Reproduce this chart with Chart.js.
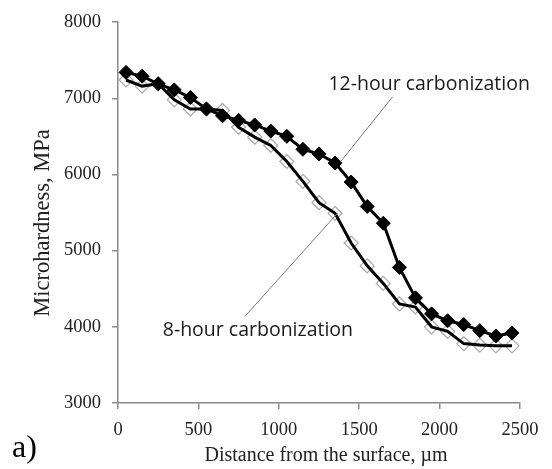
<!DOCTYPE html>
<html>
<head>
<meta charset="utf-8">
<script src="https://cdn.jsdelivr.net/npm/chart.js@4.4.0/dist/chart.umd.min.js"></script>
<style>
  html, body { margin:0; padding:0; background:#fff; }
  #wrap { width:552px; height:469px; position:relative; }
</style>
</head>
<body>
<div id="wrap"><canvas id="c" width="552" height="469"></canvas></div>
<script>
// distance from the surface, µm
const distance = [50,150,250,350,450,550,650,750,850,950,1050,1150,1250,1350,1450,1550,1650,1750,1850,1950,2050,2150,2250,2350,2450];
// microhardness, MPa
const hard12 = [7340,7290,7190,7110,7010,6860,6770,6710,6650,6570,6500,6330,6270,6150,5900,5580,5360,4780,4380,4170,4080,4030,3950,3880,3920];
const hard8  = [7240,7160,7190,6980,6860,6860,6840,6620,6490,6380,6170,5910,5630,5490,5100,4800,4570,4300,4260,4000,3940,3780,3760,3750,3750];
const xTicks = [0,500,1000,1500,2000,2500];
const yTicks = [3000,4000,5000,6000,7000,8000];

const pts = arr => arr.map((v,i)=>({ x: distance[i], y: v }));
const serif = "'Liberation Serif', 'Times New Roman', serif";

// callout labels with leader lines (in data coords)
const callouts = [
  { text:'12-hour carbonization', tx:1935, ty:7180, from:[1708,7020], to:[1385,6170] },
  { text:'8-hour carbonization',  tx:870,  ty:3955, from:[789,4136],  to:[1366,5493] },
];

const calloutPlugin = {
  id:'callouts',
  afterDraw(chart) {
    const {ctx, scales:{x, y}} = chart;
    ctx.save();
    ctx.strokeStyle = '#7a7a7a';
    ctx.lineWidth = 1;
    callouts.forEach(c => {
      ctx.beginPath();
      ctx.moveTo(x.getPixelForValue(c.from[0]), y.getPixelForValue(c.from[1]));
      ctx.lineTo(x.getPixelForValue(c.to[0]), y.getPixelForValue(c.to[1]));
      ctx.stroke();
    });
    ctx.fillStyle = '#1a1a1a';
    ctx.font = "19.5px 'Open Sans', Lato, sans-serif";
    ctx.textAlign = 'center';
    ctx.textBaseline = 'middle';
    callouts.forEach(c => ctx.fillText(c.text, x.getPixelForValue(c.tx), y.getPixelForValue(c.ty)));

    // axis titles drawn by hand, they sit a bit off-centre in the original
    ctx.fillStyle = '#222';
    ctx.font = '20px ' + serif;
    ctx.fillText('Distance from the surface, µm', 326, 456);
    ctx.save();
    ctx.translate(43, 223);
    ctx.rotate(-Math.PI/2);
    ctx.font = '22.5px ' + serif;
    ctx.fillText('Microhardness, MPa', 0, 0);
    ctx.restore();

    ctx.font = '32px ' + serif;
    ctx.textAlign = 'left';
    ctx.textBaseline = 'alphabetic';
    ctx.fillStyle = '#000';
    ctx.fillText('a)', 12, 457);
    ctx.restore();
  }
};

new Chart(document.getElementById('c'), {
  type:'line',
  data:{
    datasets:[
      { label:'12-hour carbonization', data:pts(hard12), order:0,
        borderColor:'#000', borderWidth:3, tension:0,
        pointStyle:'rectRot', pointRadius:7, pointBackgroundColor:'#000', pointBorderColor:'#000', pointBorderWidth:1 },
      { label:'8-hour line', data:pts(hard8), order:1,
        borderColor:'#000', borderWidth:3, tension:0, pointRadius:0 },
      { label:'8-hour carbonization', data:pts(hard8), order:2, showLine:false,
        pointStyle:'rectRot', pointRadius:7, pointBackgroundColor:'#fff', pointBorderColor:'#a8a8a8', pointBorderWidth:1.2 },
    ]
  },
  options:{
    responsive:false, animation:false,
    layout:{ padding:{ top:20, right:32, bottom:0, left:0 } },
    plugins:{ legend:{display:false}, tooltip:{enabled:false} },
    scales:{
      x:{ type:'linear', min:0, max:2500,
        afterBuildTicks: s => { s.ticks = xTicks.map(v=>({value:v})); },
        afterFit: s => { s.height = 66; },
        grid:{ drawOnChartArea:false, drawTicks:true, tickLength:6, color:'#8a8a8a', lineWidth:1.5 },
        border:{ color:'#8a8a8a', width:1.5 },
        ticks:{ color:'#222', font:{ family:serif, size:18.5 }, padding:10, maxRotation:0, callback: v => String(v) },
        title:{ display:false } },
      y:{ type:'linear', min:3000, max:8000,
        afterBuildTicks: s => { s.ticks = yTicks.map(v=>({value:v})); },
        afterFit: s => { s.width = 118; },
        grid:{ drawOnChartArea:false, drawTicks:true, tickLength:6, color:'#8a8a8a', lineWidth:1.5 },
        border:{ color:'#8a8a8a', width:1.5 },
        ticks:{ color:'#222', font:{ family:serif, size:18.5 }, padding:11, callback: v => String(v) },
        title:{ display:false } }
    }
  },
  plugins:[calloutPlugin]
});
</script>
</body>
</html>
